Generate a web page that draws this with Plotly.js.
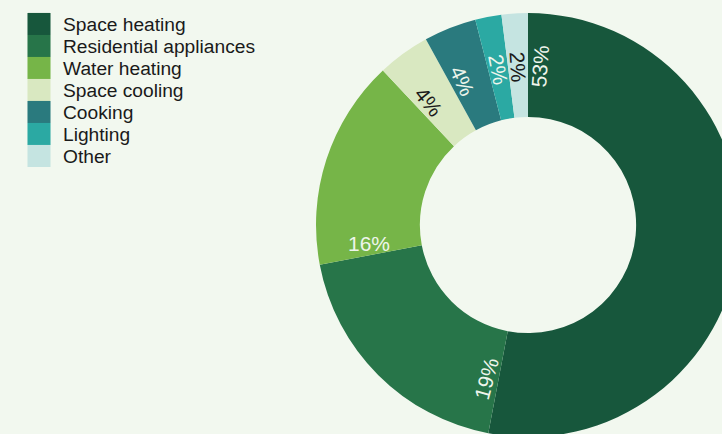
<!DOCTYPE html>
<html><head><meta charset="utf-8">
<script src="https://cdn.plot.ly/plotly-3.0.1.min.js"></script>
<style>html,body{margin:0;padding:0;overflow:hidden;background:#F2F8EF;}#chart{width:744px;height:440px;}</style>
</head><body><div id="chart"></div>
<script>
const categories = ['Space heating','Residential appliances','Water heating','Space cooling','Cooking','Lighting','Other'];
const shares = [53, 19, 16, 4, 4, 2, 2];
const sliceColors = ['#17573C','#277549','#76B548','#D9E8C1','#2A7A7E','#2BA9A3','#C5E4E1'];
const labelColors = ['#EEF5EC','#EEF5EC','#EEF5EC','#1A1A1A','#EEF5EC','#EEF5EC','#1A1A1A'];

const total = shares.reduce((a,b)=>a+b,0);
const LABEL_OFFSET = 1.2; // label sits this far (share units) past the start of its slice
const LABEL_WEDGE = 12;   // width of the transparent wedge that carries each label

const domain = {x:[316/744, 740/744], y:[3/440, 427/440]};
const HOLE = 0.51;
const FONT = 'Liberation Sans, Arial, sans-serif';

const traces = [{
  type:'pie', labels:categories, values:shares, sort:false, direction:'clockwise', rotation:0,
  hole:HOLE, domain:domain, textinfo:'none', hoverinfo:'label+percent',
  marker:{colors:sliceColors, line:{width:0}}, showlegend:true
}];

// one transparent overlay pie per label, its first wedge centred on the label position
let start = 0;
shares.forEach((v,i)=>{
  const centre = start + Math.min(v/2, LABEL_OFFSET);
  // near 3 / 9 o'clock a radial label is (almost) horizontal: draw it horizontally there
  const q = total/4;
  const dist = Math.min(Math.abs(centre-q), Math.abs(centre-3*q));
  const orient = dist < LABEL_WEDGE/2 ? 'horizontal' : 'radial';
  const rot = (centre - LABEL_WEDGE/2) / total * 360;
  traces.push({
    type:'pie', labels:['lab','rest'], values:[LABEL_WEDGE, total-LABEL_WEDGE], sort:false,
    direction:'clockwise', rotation:rot, hole:HOLE, domain:domain,
    text:[Math.round(v/total*100)+'%', ''], textinfo:'text', textposition:'inside',
    insidetextorientation:orient, textfont:{family:FONT, size:21, color:labelColors[i]},
    marker:{colors:['rgba(0,0,0,0)','rgba(0,0,0,0)'], line:{width:0}},
    showlegend:false, hoverinfo:'skip'
  });
  start += v;
});

const layout = {
  width:744, height:440, margin:{l:0,r:0,t:0,b:0},
  paper_bgcolor:'#F2F8EF', plot_bgcolor:'#F2F8EF',
  font:{family:FONT, color:'#1A1A1A'},
  showlegend:true,
  legend:{x:21/744, y:1-5/440, xanchor:'left', yanchor:'top', font:{family:FONT, size:19.2, color:'#1A1A1A'},
          bgcolor:'rgba(0,0,0,0)', itemwidth:32, tracegroupgap:0, traceorder:'normal'}
};

Plotly.newPlot('chart', traces, layout, {displayModeBar:false, staticPlot:true}).then(()=>{
  const ROW = 22;
  const items = document.querySelectorAll('.legend .traces');
  let x0 = 0, y0 = 0;
  items.forEach((t,i)=>{
    const m = /translate\(([-\d.]+)[ ,]+([-\d.]+)\)/.exec(t.getAttribute('transform')||'');
    if (i===0 && m) { x0 = +m[1]; y0 = +m[2]; }
    t.setAttribute('transform', 'translate('+x0+','+(y0+i*ROW)+')');
  });
  document.querySelectorAll('.legend .legendpoints path.legendpie').forEach(p=>{
    p.setAttribute('transform','translate(18,0) scale(1.92,1.84)');
  });
});
</script></body></html>
